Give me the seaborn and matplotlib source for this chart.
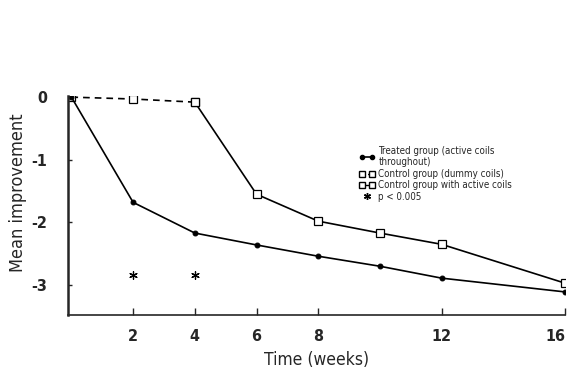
import numpy as np
import pandas as pd
import matplotlib
matplotlib.use('Agg')
import matplotlib.pyplot as plt
from matplotlib.lines import Line2D
from matplotlib.legend_handler import HandlerLine2D
import seaborn as sns

sns.set_style('ticks')
plt.rcParams['font.family'] = ['DejaVu Sans']
plt.rcParams['font.stretch'] = 'condensed'

# data
treated_weeks = [0, 2, 4, 6, 8, 10, 12, 16]
treated_vals = [0, -1.68, -2.17, -2.36, -2.54, -2.70, -2.89, -3.11]
dummy_weeks = [0, 2, 4]
dummy_vals = [0, -0.03, -0.08]
active_weeks = [4, 6, 8, 10, 12, 16]
active_vals = [-0.08, -1.55, -1.98, -2.17, -2.35, -2.97]
sig_weeks = [2, 4]
sig_vals = [-2.84, -2.84]
xticks = [2, 4, 6, 8, 12, 16]
yticks = [0, -1, -2, -3]

treated = pd.DataFrame({'week': treated_weeks, 'val': treated_vals})
dummy = pd.DataFrame({'week': dummy_weeks, 'val': dummy_vals})
active = pd.DataFrame({'week': active_weeks, 'val': active_vals})

fig = plt.figure(figsize=(5.67, 3.76), dpi=100)
ax = fig.add_axes([0.1205, 0.162, 0.876, 0.583])

sns.lineplot(data=dummy, x='week', y='val', ax=ax, color='black', lw=1.2,
             linestyle=(0, (4, 3)), marker='s', markersize=5.5,
             markerfacecolor='white', markeredgecolor='black', markeredgewidth=0.9)
sns.lineplot(data=active, x='week', y='val', ax=ax, color='black', lw=1.2,
             marker='s', markersize=5.5, markerfacecolor='white',
             markeredgecolor='black', markeredgewidth=0.9)
sns.lineplot(data=treated, x='week', y='val', ax=ax, color='black', lw=1.2,
             marker='o', markersize=3.5, markeredgecolor='black')
ax.scatter(sig_weeks, sig_vals, marker=(6, 2, 0), s=30, color='black', lw=0.9)

ax.set_xlim(-0.1, 16)
ax.set_ylim(-3.48, 0.02)
ax.set_xticks(xticks)
ax.set_yticks(yticks)
ax.set_yticklabels(['0', '-1', '-2', '-3'])
ax.tick_params(axis='x', direction='in', length=5, width=1, pad=10, labelsize=11.5)
ax.tick_params(axis='y', direction='in', length=3, width=1, pad=15, labelsize=11.5)
for t in ax.get_xticklabels() + ax.get_yticklabels():
    t.set_fontweight('bold')
ax.get_xticklabels()[-1].set_horizontalalignment('right')
sns.despine(ax=ax)
ax.spines['left'].set_linewidth(1.8)
ax.spines['bottom'].set_linewidth(1.2)

ax.set_xlabel('Time (weeks)', fontsize=12.5)
ax.set_ylabel('Mean improvement', fontsize=13)
ax.xaxis.set_label_coords(0.5, -0.165)
ax.yaxis.set_label_coords(-0.083, 0.56)

h1 = Line2D([], [], color='black', lw=1.2, marker='o', markersize=3)
h2 = Line2D([], [], color='black', lw=1, linestyle=(0, (2, 2)), marker='s',
            markersize=4, markerfacecolor='white')
h3 = Line2D([], [], color='black', lw=1, marker='s', markersize=4,
            markerfacecolor='white')
h4 = Line2D([], [], color='black', lw=0, marker=(6, 2, 0), markersize=5)
ax.legend([h1, h2, h3, h4],
          ['Treated group (active coils\nthroughout)',
           'Control group (dummy coils)',
           'Control group with active coils',
           'p < 0.005'],
          handler_map={h4: HandlerLine2D(numpoints=1)},
          loc='upper left', bbox_to_anchor=(354 / 567, 1 - 141 / 376),
          bbox_transform=fig.transFigure, frameon=False, fontsize=7,
          handlelength=1.6, handletextpad=0.4, labelspacing=0.15,
          borderpad=0, numpoints=2)

fig.savefig('out.png', dpi=100)
